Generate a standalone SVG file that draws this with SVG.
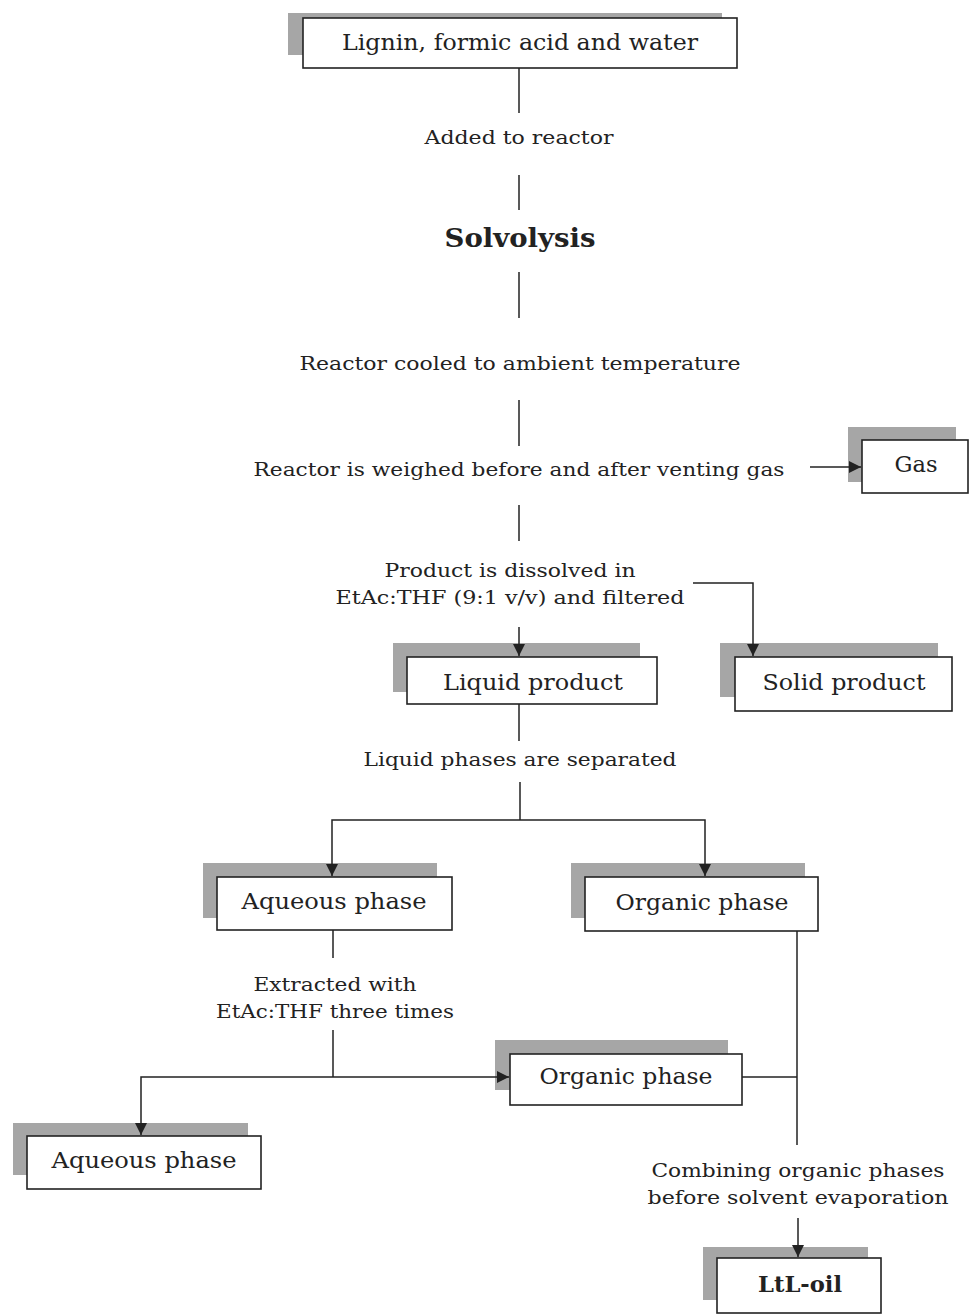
<svg xmlns="http://www.w3.org/2000/svg" width="969" height="1315" viewBox="0 0 969 1315">
<style>
.sh{fill:#a6a6a6;stroke:none}
.bx{fill:#fff;stroke:#222;stroke-width:1.6}
.t{font-family:"DejaVu Serif","Liberation Serif",serif;fill:#222;text-anchor:middle}
.bt{font-size:22px}
.lt{font-size:19px}
.ln{fill:none;stroke:#222;stroke-width:1.5}
</style>
<defs>
<marker id="ah" viewBox="0 0 10 10" refX="10" refY="5" markerWidth="12" markerHeight="12" markerUnits="userSpaceOnUse" orient="auto-start-reverse">
<path d="M0,0 L10,5 L0,10 z" fill="#222"/>
</marker>
</defs>
<rect width="969" height="1315" fill="#fff"/>
<g id="n-lignin">
<rect class="sh" x="288" y="13" width="434" height="42"/>
<rect class="bx" x="303" y="18" width="434" height="50"/>
<text class="t bt" x="520" y="50" textLength="356" lengthAdjust="spacingAndGlyphs">Lignin, formic acid and water</text>
</g>
<g id="n-added"><text class="t lt" x="519" y="144" textLength="189" lengthAdjust="spacingAndGlyphs">Added to reactor</text></g>
<g id="n-solvolysis"><text class="t" x="520" y="247" font-size="26" font-weight="bold" textLength="151" lengthAdjust="spacingAndGlyphs">Solvolysis</text></g>
<g id="n-cooled"><text class="t lt" x="520" y="370" textLength="441" lengthAdjust="spacingAndGlyphs">Reactor cooled to ambient temperature</text></g>
<g id="n-weighed"><text class="t lt" x="519" y="476" textLength="531" lengthAdjust="spacingAndGlyphs">Reactor is weighed before and after venting gas</text></g>
<g id="n-gas">
<rect class="sh" x="848" y="427" width="108" height="55"/>
<rect class="bx" x="862" y="440" width="106" height="53"/>
<text class="t bt" x="916" y="472" textLength="43" lengthAdjust="spacingAndGlyphs">Gas</text>
</g>
<g id="n-dissolved">
<text class="t lt" x="510" y="577" textLength="251" lengthAdjust="spacingAndGlyphs">Product is dissolved in</text>
<text class="t lt" x="510" y="604" textLength="349" lengthAdjust="spacingAndGlyphs">EtAc:THF (9:1 v/v) and filtered</text>
</g>
<g id="n-liquid">
<rect class="sh" x="393" y="643" width="247" height="49"/>
<rect class="bx" x="407" y="657" width="250" height="47"/>
<text class="t bt" x="533" y="690" textLength="180" lengthAdjust="spacingAndGlyphs">Liquid product</text>
</g>
<g id="n-solid">
<rect class="sh" x="720" y="643" width="218" height="54"/>
<rect class="bx" x="735" y="657" width="217" height="54"/>
<text class="t bt" x="844" y="690" textLength="163" lengthAdjust="spacingAndGlyphs">Solid product</text>
</g>
<g id="n-separated"><text class="t lt" x="520" y="766" textLength="313" lengthAdjust="spacingAndGlyphs">Liquid phases are separated</text></g>
<g id="n-aq1">
<rect class="sh" x="203" y="863" width="234" height="55"/>
<rect class="bx" x="217" y="877" width="235" height="53"/>
<text class="t bt" x="334" y="909" textLength="185" lengthAdjust="spacingAndGlyphs">Aqueous phase</text>
</g>
<g id="n-org1">
<rect class="sh" x="571" y="863" width="234" height="55"/>
<rect class="bx" x="585" y="877" width="233" height="54"/>
<text class="t bt" x="702" y="910" textLength="173" lengthAdjust="spacingAndGlyphs">Organic phase</text>
</g>
<g id="n-extracted">
<text class="t lt" x="335" y="991" textLength="163" lengthAdjust="spacingAndGlyphs">Extracted with</text>
<text class="t lt" x="335" y="1018" textLength="238" lengthAdjust="spacingAndGlyphs">EtAc:THF three times</text>
</g>
<g id="n-org2">
<rect class="sh" x="495" y="1040" width="233" height="50"/>
<rect class="bx" x="510" y="1054" width="232" height="51"/>
<text class="t bt" x="626" y="1084" textLength="173" lengthAdjust="spacingAndGlyphs">Organic phase</text>
</g>
<g id="n-aq2">
<rect class="sh" x="13" y="1123" width="235" height="52"/>
<rect class="bx" x="27" y="1136" width="234" height="53"/>
<text class="t bt" x="144" y="1168" textLength="185" lengthAdjust="spacingAndGlyphs">Aqueous phase</text>
</g>
<g id="n-combining">
<text class="t lt" x="798" y="1177" textLength="293" lengthAdjust="spacingAndGlyphs">Combining organic phases</text>
<text class="t lt" x="798" y="1204" textLength="301" lengthAdjust="spacingAndGlyphs">before solvent evaporation</text>
</g>
<g id="n-ltl">
<rect class="sh" x="703" y="1247" width="165" height="53"/>
<rect class="bx" x="717" y="1258" width="164" height="55"/>
<text class="t bt" x="800" y="1292" font-weight="bold" textLength="84" lengthAdjust="spacingAndGlyphs">LtL-oil</text>
</g>
<g id="connectors">
<line class="ln" x1="519" y1="68" x2="519" y2="113"/>
<line class="ln" x1="519" y1="175" x2="519" y2="210"/>
<line class="ln" x1="519" y1="272" x2="519" y2="318"/>
<line class="ln" x1="519" y1="400" x2="519" y2="446"/>
<line class="ln" x1="810" y1="467" x2="861" y2="467" marker-end="url(#ah)"/>
<line class="ln" x1="519" y1="505" x2="519" y2="541"/>
<polyline class="ln" points="693,583 753,583 753,656" marker-end="url(#ah)"/>
<line class="ln" x1="519" y1="627" x2="519" y2="656" marker-end="url(#ah)"/>
<line class="ln" x1="519" y1="704" x2="519" y2="741"/>
<line class="ln" x1="520" y1="782" x2="520" y2="820"/>
<polyline class="ln" points="332,876 332,820 705,820 705,876" marker-start="url(#ah)" marker-end="url(#ah)"/>
<line class="ln" x1="333" y1="930" x2="333" y2="958"/>
<line class="ln" x1="333" y1="1030" x2="333" y2="1077"/>
<polyline class="ln" points="141,1135 141,1077 509,1077" marker-start="url(#ah)" marker-end="url(#ah)"/>
<line class="ln" x1="797" y1="931" x2="797" y2="1145"/>
<line class="ln" x1="742" y1="1077" x2="797" y2="1077"/>
<line class="ln" x1="798" y1="1218" x2="798" y2="1257" marker-end="url(#ah)"/>
</g>
</svg>
